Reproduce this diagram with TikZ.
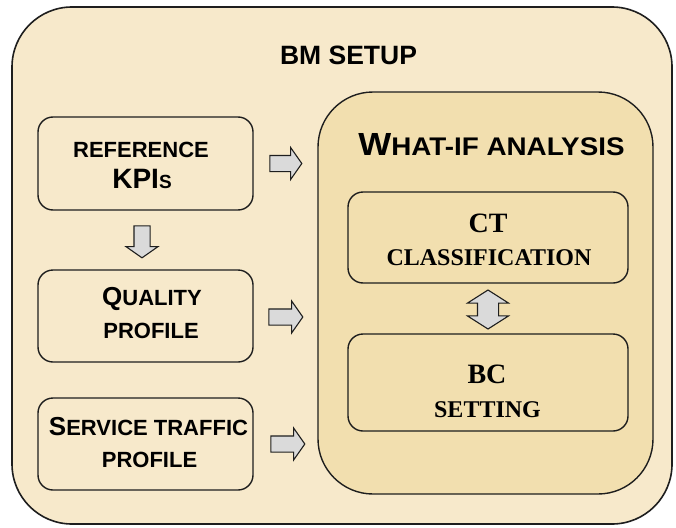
\documentclass[tikz,border=0pt]{standalone}
\usepackage{fontspec}
\usepackage{graphicx}
\setmainfont{Liberation Serif}
\newfontfamily\arialf{Liberation Sans}
\usetikzlibrary{shapes.arrows}
\definecolor{outerfill}{HTML}{F7E9CB}
\definecolor{innerfill}{HTML}{F2DFAF}
\definecolor{arrowfill}{HTML}{DADADA}
\definecolor{linec}{HTML}{1E1E1E}
\newcommand\fsz[1]{\fontsize{#1}{#1}\selectfont}
\begin{document}
\begin{tikzpicture}[x=1pt,y=-1pt,
  box/.style={draw=linec, line width=1.4pt, rounded corners=15pt, inner sep=0pt},
  blockarrow/.style={single arrow, draw=linec, line width=1.1pt, fill=arrowfill,
    inner xsep=0pt, inner ysep=7.5pt, minimum width=0pt,
    single arrow head extend=8pt, single arrow tip angle=110},
  dblarrow/.style={double arrow, draw=linec, line width=1.1pt, fill=arrowfill,
    inner xsep=0pt, inner ysep=10pt, minimum width=0pt,
    double arrow head extend=10pt, double arrow tip angle=115},
  sanslbl/.style={anchor=base, inner sep=0pt, font=\arialf\bfseries},
  seriflbl/.style={anchor=base, inner sep=0pt, font=\bfseries}]
\useasboundingbox (0,0) rectangle (676,527);
% containers
\node[box, rounded corners=60pt, fill=outerfill, line width=1.6pt,
      minimum width=660pt, minimum height=517pt] (outer) at (342,265.5) {};
\node[box, rounded corners=55pt, fill=innerfill,
      minimum width=335pt, minimum height=402pt] (what) at (485.5,293) {};
% left boxes
\node[box, fill=outerfill, minimum width=215pt, minimum height=93pt] (ref) at (145.5,163.5) {};
\node[box, fill=outerfill, minimum width=215pt, minimum height=92pt] (qual) at (145.5,316) {};
\node[box, fill=outerfill, minimum width=215pt, minimum height=92pt] (serv) at (145.5,444) {};
% right boxes
\node[box, fill=innerfill, minimum width=280pt, minimum height=91pt] (ct) at (488,237.5) {};
\node[box, fill=innerfill, minimum width=280pt, minimum height=97pt] (bc) at (488,382.5) {};
% texts
\node[sanslbl] (tbm) at (348.5,64) {\fsz{26.5}BM SETUP};
\node[sanslbl] (twhat) at (491.5,155) {\scalebox{1.09}[1]{\fsz{32}W\fsz{25.5}HAT-IF ANALYSIS}};
\node[sanslbl] (tref1) at (141,157) {\fsz{22}REFERENCE};
\node[sanslbl] (tref2) at (142,188) {\fsz{28}KPI\fsz{19}S};
\node[sanslbl] (tq1) at (152,305) {\fsz{26}Q\fsz{22}UALITY};
\node[sanslbl] (tq2) at (151,338) {\fsz{22}PROFILE};
\node[sanslbl] (ts1) at (148.5,435) {\fsz{26}S\fsz{22}ERVICE TRAFFIC};
\node[sanslbl] (ts2) at (149.5,467) {\fsz{22}PROFILE};
\node[seriflbl] (tct1) at (488,232) {\fsz{28}CT};
\node[seriflbl] (tct2) at (489,265) {\fsz{24}CLASSIFICATION};
\node[seriflbl] (tbc1) at (487,383) {\fsz{28}BC};
\node[seriflbl] (tbc2) at (487.5,417) {\fsz{24}SETTING};
% block arrows
\node[blockarrow, minimum height=32pt] (a1) at (283,163.5) {};
\node[blockarrow, minimum height=32pt, rotate=-90] (a2) at (142,239) {};
\node[blockarrow, minimum height=34pt] (a3) at (283,317) {};
\node[blockarrow, minimum height=34pt] (a4) at (285,444) {};
\node[dblarrow, minimum height=39pt, rotate=90] (a5) at (488,309.5) {};
\end{tikzpicture}
\end{document}
